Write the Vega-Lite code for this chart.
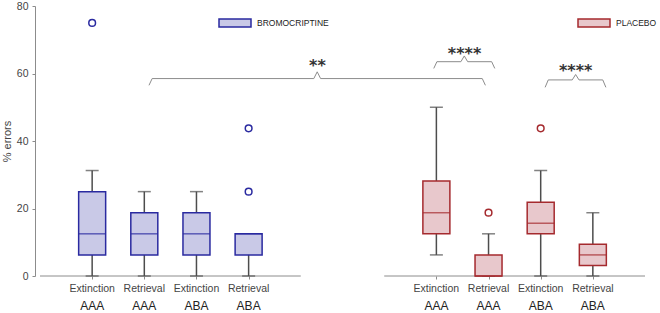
{
  "$schema": "https://vega.github.io/schema/vega-lite/v6.json",
  "width": 615,
  "height": 270,
  "autosize": {"type": "none"},
  "padding": {"left": 35, "top": 6, "right": 10, "bottom": 37},
  "config": {
    "view": {"stroke": null},
    "font": "Liberation Sans"
  },
  "datasets": {
    "boxes": [
      {"group": "BROMOCRIPTINE", "phase": "Extinction", "ctx": "AAA", "pos": 1, "lo": 0, "q1": 6.25, "med": 12.5, "q3": 25, "hi": 31.25},
      {"group": "BROMOCRIPTINE", "phase": "Retrieval", "ctx": "AAA", "pos": 2, "lo": 0, "q1": 6.25, "med": 12.5, "q3": 18.75, "hi": 25},
      {"group": "BROMOCRIPTINE", "phase": "Extinction", "ctx": "ABA", "pos": 3, "lo": 0, "q1": 6.25, "med": 12.5, "q3": 18.75, "hi": 25},
      {"group": "BROMOCRIPTINE", "phase": "Retrieval", "ctx": "ABA", "pos": 4, "lo": 0, "q1": 6.25, "med": 12.5, "q3": 12.5, "hi": 12.5},
      {"group": "PLACEBO", "phase": "Extinction", "ctx": "AAA", "pos": 7.6, "lo": 6.25, "q1": 12.5, "med": 18.75, "q3": 28.125, "hi": 50},
      {"group": "PLACEBO", "phase": "Retrieval", "ctx": "AAA", "pos": 8.6, "lo": 0, "q1": 0, "med": 0, "q3": 6.25, "hi": 12.5},
      {"group": "PLACEBO", "phase": "Extinction", "ctx": "ABA", "pos": 9.6, "lo": 0, "q1": 12.5, "med": 15.625, "q3": 21.875, "hi": 31.25},
      {"group": "PLACEBO", "phase": "Retrieval", "ctx": "ABA", "pos": 10.6, "lo": 0, "q1": 3.125, "med": 6.25, "q3": 9.375, "hi": 18.75}
    ],
    "outliers": [
      {"group": "BROMOCRIPTINE", "pos": 1, "value": 75},
      {"group": "BROMOCRIPTINE", "pos": 4, "value": 25},
      {"group": "BROMOCRIPTINE", "pos": 4, "value": 43.75},
      {"group": "PLACEBO", "pos": 8.6, "value": 18.75},
      {"group": "PLACEBO", "pos": 9.6, "value": 43.75}
    ],
    "axislines": [
      {"from": 0, "to": 5},
      {"from": 6.6, "to": 11.6}
    ],
    "brackets": [
      {"b": "b1", "i": 0, "bx": 2.09, "by": 56.5},
      {"b": "b1", "i": 1, "bx": 2.15, "by": 58.5},
      {"b": "b1", "i": 2, "bx": 5.25, "by": 58.5},
      {"b": "b1", "i": 3, "bx": 5.315, "by": 60.5},
      {"b": "b1", "i": 4, "bx": 5.38, "by": 58.5},
      {"b": "b1", "i": 5, "bx": 8.48, "by": 58.5},
      {"b": "b1", "i": 6, "bx": 8.54, "by": 56.5},
      {"b": "b2", "i": 0, "bx": 7.55, "by": 61.5},
      {"b": "b2", "i": 1, "bx": 7.61, "by": 63.5},
      {"b": "b2", "i": 2, "bx": 8.07, "by": 63.5},
      {"b": "b2", "i": 3, "bx": 8.135, "by": 65.2},
      {"b": "b2", "i": 4, "bx": 8.2, "by": 63.5},
      {"b": "b2", "i": 5, "bx": 8.66, "by": 63.5},
      {"b": "b2", "i": 6, "bx": 8.72, "by": 61.5},
      {"b": "b3", "i": 0, "bx": 9.685, "by": 55.9},
      {"b": "b3", "i": 1, "bx": 9.745, "by": 58.1},
      {"b": "b3", "i": 2, "bx": 10.205, "by": 58.1},
      {"b": "b3", "i": 3, "bx": 10.27, "by": 59.7},
      {"b": "b3", "i": 4, "bx": 10.335, "by": 58.1},
      {"b": "b3", "i": 5, "bx": 10.79, "by": 58.1},
      {"b": "b3", "i": 6, "bx": 10.85, "by": 55.9}
    ],
    "stars": [
      {"label": "**", "sx": 5.32, "sy": 63.3},
      {"label": "****", "sx": 8.14, "sy": 67.0},
      {"label": "****", "sx": 10.27, "sy": 62.0}
    ]
  },
  "layer": [
    {
      "data": {"name": "axislines"},
      "mark": {"type": "rule", "color": "#8c8c8c", "strokeWidth": 1},
      "encoding": {
        "x": {"field": "from", "type": "quantitative", "scale": {"domain": [0, 11.6], "nice": false, "zero": false},
              "axis": {"values": [1, 2, 3, 4, 7.6, 8.6, 9.6, 10.6], "labels": false, "domain": false, "grid": false, "tickSize": 3, "tickColor": "#8c8c8c", "title": null}},
        "x2": {"field": "to"},
        "y": {"datum": 0, "type": "quantitative", "scale": {"domain": [0, 80], "nice": false},
              "axis": {"values": [0, 20, 40, 60, 80], "grid": false, "domainColor": "#8c8c8c", "tickColor": "#8c8c8c", "tickSize": 3, "labelFontSize": 10.5, "labelColor": "#444", "labelPadding": 4, "title": "% errors", "titleFontSize": 11, "titleFontWeight": "normal", "titleColor": "#444", "titlePadding": 4}}
      }
    },
    {
      "data": {"name": "brackets"},
      "mark": {"type": "line", "color": "#8c8c8c", "strokeWidth": 1},
      "encoding": {
        "x": {"field": "bx", "type": "quantitative"},
        "y": {"field": "by", "type": "quantitative"},
        "detail": {"field": "b"},
        "order": {"field": "i"}
      }
    },
    {
      "data": {"name": "stars"},
      "mark": {"type": "text", "font": "DejaVu Sans", "fontSize": 16, "fontWeight": "bold", "color": "#333", "baseline": "alphabetic", "align": "center", "dy": 9},
      "encoding": {
        "x": {"field": "sx", "type": "quantitative"},
        "y": {"field": "sy", "type": "quantitative"},
        "text": {"field": "label"}
      }
    },
    {
      "data": {"name": "boxes"},
      "layer": [
        {
          "mark": {"type": "rule", "color": "#4d4d4d", "strokeWidth": 1.5},
          "encoding": {
            "x": {"field": "pos", "type": "quantitative"},
            "y": {"field": "lo", "type": "quantitative"},
            "y2": {"field": "hi"}
          }
        },
        {
          "mark": {"type": "tick", "orient": "horizontal", "color": "#4d4d4d", "size": 13, "thickness": 1.5},
          "encoding": {
            "x": {"field": "pos", "type": "quantitative"},
            "y": {"field": "hi", "type": "quantitative"}
          }
        },
        {
          "mark": {"type": "tick", "orient": "horizontal", "color": "#4d4d4d", "size": 13, "thickness": 1.5},
          "encoding": {
            "x": {"field": "pos", "type": "quantitative"},
            "y": {"field": "lo", "type": "quantitative"}
          }
        },
        {
          "mark": {"type": "bar", "width": 27, "strokeWidth": 1.5},
          "encoding": {
            "x": {"field": "pos", "type": "quantitative"},
            "y": {"field": "q1", "type": "quantitative"},
            "y2": {"field": "q3"},
            "fill": {"field": "group", "type": "nominal",
                     "scale": {"domain": ["BROMOCRIPTINE", "PLACEBO"], "range": ["#c9c9e7", "#e8c8cc"]},
                     "legend": {"title": null, "orient": "none", "legendX": 183, "legendY": 0, "direction": "horizontal", "columns": 2, "columnPadding": 246, "padding": 0,
                                "symbolType": "M-1,-0.25H1V0.25H-1Z", "symbolSize": 1024, "symbolStrokeWidth": 1.5, "symbolOpacity": 1,
                                "labelFont": "Liberation Sans", "labelFontSize": 8.5, "labelColor": "#222", "labelOffset": 5}},
            "stroke": {"field": "group", "type": "nominal",
                       "scale": {"domain": ["BROMOCRIPTINE", "PLACEBO"], "range": ["#2a2aa0", "#a52a2e"]}}
          }
        },
        {
          "mark": {"type": "tick", "orient": "horizontal", "size": 27, "thickness": 1.5},
          "encoding": {
            "x": {"field": "pos", "type": "quantitative"},
            "y": {"field": "med", "type": "quantitative"},
            "color": {"field": "group", "type": "nominal", "scale": {"domain": ["BROMOCRIPTINE", "PLACEBO"], "range": ["#2a2aa0", "#a52a2e"]}, "legend": null}
          }
        },
        {
          "mark": {"type": "text", "fontSize": 10.5, "color": "#444", "baseline": "middle", "dy": 13},
          "encoding": {
            "x": {"field": "pos", "type": "quantitative"},
            "y": {"datum": 0, "type": "quantitative"},
            "text": {"field": "phase"}
          }
        },
        {
          "mark": {"type": "text", "fontSize": 12, "color": "#222", "baseline": "middle", "dy": 30},
          "encoding": {
            "x": {"field": "pos", "type": "quantitative"},
            "y": {"datum": 0, "type": "quantitative"},
            "text": {"field": "ctx"}
          }
        }
      ]
    },
    {
      "data": {"name": "outliers"},
      "mark": {"type": "point", "shape": "circle", "filled": false, "size": 45, "strokeWidth": 1.5, "opacity": 1},
      "encoding": {
        "x": {"field": "pos", "type": "quantitative"},
        "y": {"field": "value", "type": "quantitative"},
        "color": {"field": "group", "type": "nominal", "scale": {"domain": ["BROMOCRIPTINE", "PLACEBO"], "range": ["#2a2aa0", "#a52a2e"]}, "legend": null}
      }
    }
  ]
}
